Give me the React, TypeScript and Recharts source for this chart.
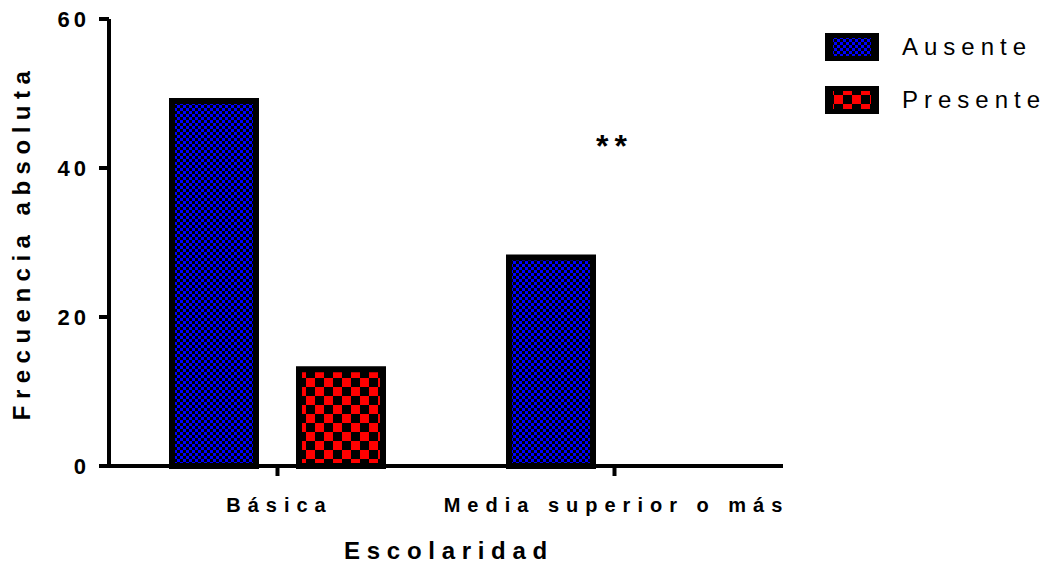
import React from "react"
import { BarChart, Bar, XAxis, YAxis, ReferenceDot } from "recharts"

const categories = ["Básica", "Media superior o más"]
const ausente = [49, 28]
const presente = [13, 0]
const yTicks = [0, 20, 40, 60]
const significance = [{ category: "Media superior o más", y: 44, mark: "**" }]

const SERIES = [
  { key: "ausente", name: "Ausente", pattern: "chk-blue" },
  { key: "presente", name: "Presente", pattern: "chk-red" },
]

const data = categories.map((c, i) => ({ name: c, ausente: ausente[i], presente: presente[i] }))

const FONT = "Arial, 'Liberation Sans', Helvetica, sans-serif"

function Patterns({ prefix = "" }: { prefix?: string }) {
  return (
    <defs>
      <pattern id={prefix + "chk-blue"} patternUnits="userSpaceOnUse" width={6} height={6}>
        <rect width={6} height={6} fill="#000" />
        <rect x={0} y={0} width={3} height={3} fill="#0000ff" />
        <rect x={3} y={3} width={3} height={3} fill="#0000ff" />
      </pattern>
      <pattern id={prefix + "chk-red"} patternUnits="userSpaceOnUse" width={18} height={18}>
        <rect width={18} height={18} fill="#000" />
        <rect x={0} y={0} width={9} height={9} fill="#ff0000" />
        <rect x={9} y={9} width={9} height={9} fill="#ff0000" />
      </pattern>
    </defs>
  )
}

const XTick = ({ x, y, payload }: any) => (
  <text
    x={x + 2}
    y={y + 20}
    textAnchor="middle"
    fontFamily={FONT}
    fontWeight="bold"
    fontSize={20}
    letterSpacing={7}
    dy="0.71em"
    fill="#000"
  >
    {payload.value}
  </text>
)

const YTick = ({ x, y, payload }: any) => (
  <text
    x={x - 7}
    y={y}
    textAnchor="end"
    fontFamily={FONT}
    fontWeight="bold"
    fontSize={22}
    letterSpacing={4}
    dy="0.36em"
    fill="#000"
  >
    {payload.value}
  </text>
)

// legend sits beside the plot, outside the chart's layout box
const LegendBox = () => (
  <div style={{ position: "absolute", left: 825, top: 33, fontFamily: FONT }}>
    {SERIES.map((s, i) => (
      <div key={s.key} style={{ display: "flex", alignItems: "center", height: 28, marginBottom: i === 0 ? 25 : 0 }}>
        <svg width={54} height={28} style={{ display: "block" }}>
          <Patterns prefix="lg-" />
          <rect x={0} y={0} width={54} height={28} fill="#000" />
          <rect x={8} y={5} width={38} height={18} fill={`url(#lg-${s.pattern})`} />
        </svg>
        <span style={{ marginLeft: 23, fontSize: 24, letterSpacing: 6, color: "#000", whiteSpace: "nowrap" }}>
          {s.name}
        </span>
      </div>
    ))}
  </div>
)

export default function App() {
  return (
    <div style={{ position: "relative", width: 1050, height: 572, margin: -8, background: "#fff" }}>
      <BarChart
        width={1050}
        height={572}
        data={data}
        margin={{ top: 19, right: 267, bottom: 0, left: 0 }}
        barSize={84}
        barGap={43}
      >
        <Patterns />
        <XAxis
          dataKey="name"
          height={106}
          axisLine={{ stroke: "#000", strokeWidth: 4 }}
          tickLine={{ stroke: "#000", strokeWidth: 4 }}
          tickSize={10}
          tick={<XTick />}
          interval={0}
          label={({ viewBox }: any) => (
            <text
              x={viewBox.x + viewBox.width / 2 + 3}
              y={viewBox.y + 93}
              textAnchor="middle"
              fontFamily={FONT}
              fontWeight="bold"
              fontSize={24}
              letterSpacing={6.7}
              fill="#000"
            >
              Escolaridad
            </text>
          )}
        />
        <YAxis
          width={109}
          domain={[0, 60]}
          ticks={yTicks}
          axisLine={{ stroke: "#000", strokeWidth: 4 }}
          tickLine={{ stroke: "#000", strokeWidth: 4 }}
          tickSize={10}
          tick={<YTick />}
          label={({ viewBox }: any) => {
            const cx = 21
            const cy = viewBox.y + viewBox.height / 2
            return (
              <text
                x={cx}
                y={cy}
                transform={`rotate(-90 ${cx} ${cy})`}
                textAnchor="middle"
                fontFamily={FONT}
                fontWeight="bold"
                fontSize={24}
                letterSpacing={6.5}
                dy="0.36em"
                fill="#000"
              >
                Frecuencia absoluta
              </text>
            )
          }}
        />
        {SERIES.map((s) => (
          <Bar
            key={s.key}
            dataKey={s.key}
            name={s.name}
            fill={`url(#${s.pattern})`}
            stroke="#000"
            strokeWidth={6}
            isAnimationActive={false}
          />
        ))}
        {significance.map((m) => (
          <ReferenceDot
            key={m.category}
            x={m.category}
            y={m.y}
            r={0}
            fill="none"
            stroke="none"
            label={({ viewBox }: any) => (
              <text
                x={viewBox.x}
                y={viewBox.y}
                textAnchor="middle"
                fontFamily={FONT}
                fontWeight="bold"
                fontSize={32}
                letterSpacing={6}
                dy="0.6em"
                fill="#000"
              >
                {m.mark}
              </text>
            )}
          />
        ))}
      </BarChart>
      <LegendBox />
    </div>
  )
}
